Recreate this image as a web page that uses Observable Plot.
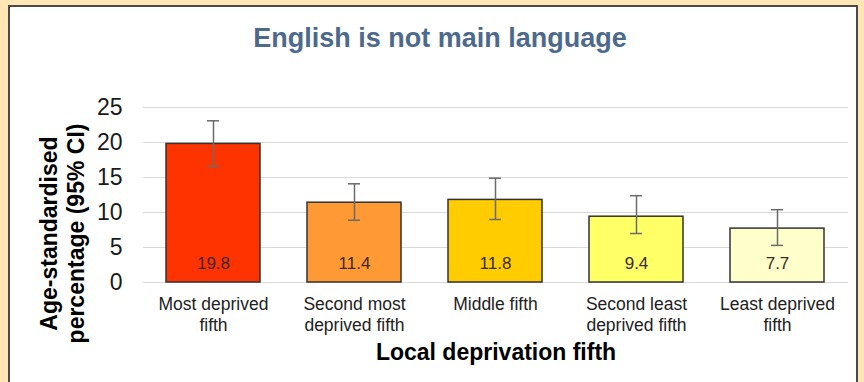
<!DOCTYPE html>
<html>
<head>
<meta charset="utf-8">
<script src="https://cdn.jsdelivr.net/npm/d3@7"></script>
<script src="https://cdn.jsdelivr.net/npm/@observablehq/plot@0.6"></script>
<style>
  html, body { margin: 0; padding: 0; }
  body { width: 864px; height: 382px; background: #FFE6B4; position: relative; overflow: hidden; font-family: "Liberation Sans", Arial, sans-serif; }
  #panel { position: absolute; left: 8px; top: 5px; width: 846px; height: 400px; background: #fff; border: 2px solid #4a4a4a; }
  #title { position: absolute; left: 0; top: 23px; width: 880px; text-align: center; font-size: 27px; font-weight: bold; color: #4d6a8e; }
  #chart { position: absolute; left: 0; top: 0; }
</style>
</head>
<body>
<div id="panel"></div>
<div id="title">English is not main language</div>
<div id="chart"></div>
<script>
const categories = ["Most deprived fifth", "Second most deprived fifth", "Middle fifth", "Second least deprived fifth", "Least deprived fifth"];
const tickLabels = ["Most deprived\nfifth", "Second most\ndeprived fifth", "Middle fifth", "Second least\ndeprived fifth", "Least deprived\nfifth"];
const values = [19.8, 11.4, 11.8, 9.4, 7.7];
const lower = [16.6, 8.9, 9.0, 7.0, 5.3];
const upper = [23.1, 14.1, 14.9, 12.4, 10.4];
const colors = ["#FF3300", "#FF9933", "#FFCC00", "#FFFF66", "#FFFFCC"];
const yTicks = [0, 5, 10, 15, 20, 25];
const yLabel = "Age-standardised\npercentage (95% CI)";
const xLabel = "Local deprivation fifth";

const data = categories.map((c, i) => ({cat: c, tick: tickLabels[i], value: values[i], lo: lower[i], hi: upper[i], color: colors[i]}));

const chart = Plot.plot({
  width: 864,
  height: 382,
  marginLeft: 143,
  marginRight: 16,
  marginTop: 107,
  marginBottom: 100,
  style: {fontFamily: "'Liberation Sans', Arial, sans-serif", background: "transparent", overflow: "visible"},
  x: {domain: categories, paddingInner: 0.33, paddingOuter: 0.165, axis: null},
  y: {domain: [0, 25], axis: null},
  marks: [
    Plot.ruleY(yTicks, {stroke: "#d9d9d9", strokeWidth: 1.2}),
    Plot.axisY({ticks: yTicks, tickSize: 0, tickPadding: 21, fontSize: 23, color: "#1a1a1a", label: null}),
    Plot.barY(data, {x: "cat", y: "value", fill: "color", stroke: "#333", strokeWidth: 1.5}),
    Plot.ruleX(data, {x: "cat", y1: "lo", y2: "hi", stroke: "#6b6b6b", strokeWidth: 1.5}),
    Plot.tickY(data, {x: "cat", y: "lo", stroke: "#6b6b6b", strokeWidth: 1.5, insetLeft: 41, insetRight: 41}),
    Plot.tickY(data, {x: "cat", y: "hi", stroke: "#6b6b6b", strokeWidth: 1.5, insetLeft: 41, insetRight: 41}),
    Plot.text(data, {x: "cat", y: 0, text: d => d.value.toFixed(1), dy: -18.5, fontSize: 17, fill: "#3a2a22"}),
    Plot.text(data, {x: "cat", text: "tick", frameAnchor: "bottom", lineAnchor: "top", dy: 12, lineHeight: 1.22, fontSize: 17.5, fill: "#222"}),
    Plot.text([xLabel], {frameAnchor: "bottom", dy: 77, fontSize: 23, fontWeight: "bold", fill: "#000"}),
    Plot.text([yLabel], {frameAnchor: "left", textAnchor: "middle", rotate: -90, dx: -81.5, dy: 38.5, fontSize: 23, fontWeight: "bold", lineHeight: 1.17, fill: "#000"})
  ]
});
document.getElementById("chart").appendChild(chart);
</script>
</body>
</html>
